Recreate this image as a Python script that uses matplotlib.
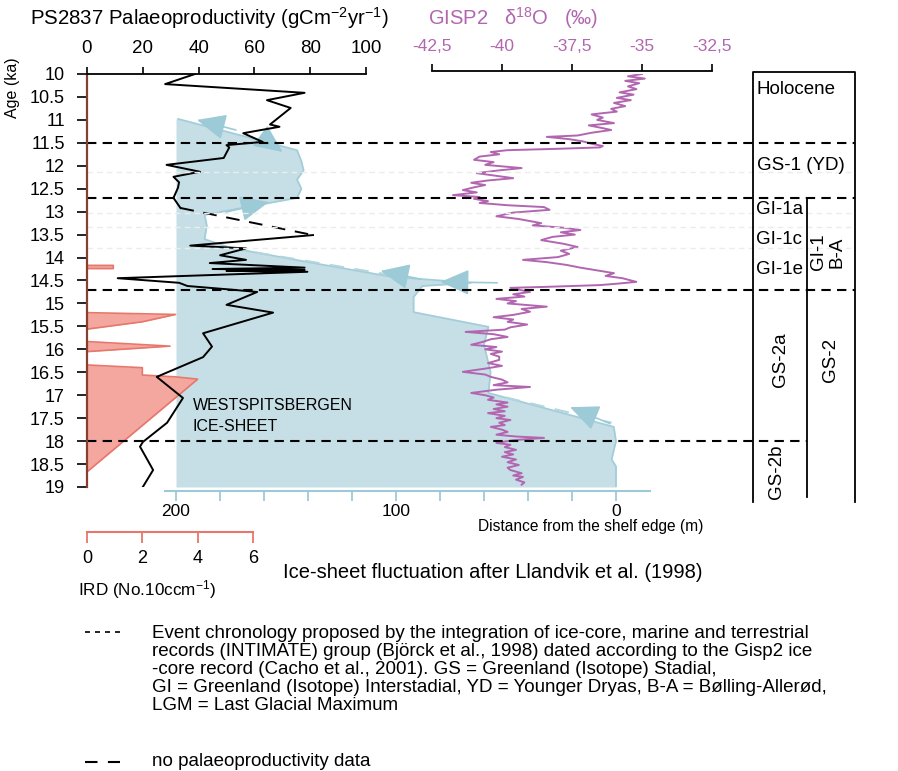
import numpy as np
import matplotlib
matplotlib.use("Agg")
import matplotlib.pyplot as plt
from matplotlib import transforms
from matplotlib.lines import Line2D

# ---- data ----
# PS2837 palaeoproductivity (gC m-2 yr-1); nan marks the gap without data
prod_age = [10.0, 10.22, 10.41, 10.57, 10.74, 11.1, 11.15, 11.29, 11.48, 11.55, 11.6, 11.83,
            11.98, 12.13, 12.24, 12.36, 12.48, 12.7, 12.92, np.nan,
            13.51, 13.74, 13.8, 13.95, 14.05, 14.12, 14.22, 14.25, 14.27, 14.29, 14.31,
            14.45, 14.55, 14.62, 14.7, 14.75, 15.03, 15.2, 15.65, 15.94, 16.17, 16.6,
            17.06, 17.6, 18.02, 18.12, 18.63, 19.0]
prod_val = [38.7, 28, 78, 64.5, 73, 65.6, 69, 56, 63, 50, 51, 49,
            28.5, 40.5, 31, 33, 32.6, 31, 33.5, np.nan,
            81, 37, 57, 47.7, 57, 44, 78, 45, 78, 50, 79,
            11, 33, 36, 52, 61, 50, 66.7, 41.6, 44.8, 41.6, 25,
            34.4, 28.7, 20, 19, 23.7, 20]
gap_age = [12.92, 13.51]
gap_val = [33.5, 81]

# IRD (No. 10 ccm-1)
ird_age = [14.17, 14.17, 14.24, 14.24, 15.2, 15.24, 15.4, 15.56, 15.83, 15.88, 15.93, 16.05,
           16.34, 16.4, 16.56, 16.6, 16.65, 18.67]
ird_val = [0, 0.95, 0.95, 0, 0, 3.2, 2.0, 0, 0, 1.5, 3.0, 0,
           0, 2.0, 2.0, 3.2, 4.0, 0]

# GISP2 d18O (permil)
gisp_age = [10.00, 10.05, 10.10, 10.15, 10.20, 10.27, 10.33, 10.40, 10.45, 10.52, 10.57, 10.63,
            10.70, 10.76, 10.82, 10.88, 10.95, 11.00, 11.07, 11.12, 11.18, 11.22, 11.28, 11.34,
            11.37, 11.42, 11.47, 11.52, 11.57, 11.60, 11.63, 11.66, 11.70, 11.75, 11.80, 11.87,
            11.92, 11.98, 12.05, 12.10, 12.16, 12.22, 12.27, 12.32, 12.37, 12.42, 12.47, 12.53,
            12.58, 12.64, 12.68, 12.72, 12.77, 12.81, 12.86, 12.90, 12.96, 13.02, 13.10, 13.16,
            13.25, 13.30, 13.35, 13.40, 13.45, 13.50, 13.55, 13.62, 13.70, 13.77, 13.85, 13.92,
            13.99, 14.05, 14.10, 14.16, 14.22, 14.28, 14.34, 14.40, 14.45, 14.53, 14.57, 14.60,
            14.64, 14.66, 14.70, 14.75, 14.80, 14.85, 14.90, 14.95, 15.00, 15.07, 15.12, 15.18,
            15.25, 15.30, 15.35, 15.40, 15.46, 15.52, 15.57, 15.62, 15.67, 15.73, 15.78, 15.84,
            15.90, 15.95, 16.00, 16.05, 16.10, 16.16, 16.23, 16.30, 16.36, 16.42, 16.49, 16.55,
            16.60, 16.66, 16.72, 16.78, 16.82, 16.88, 16.95, 17.00, 17.05, 17.10, 17.16, 17.20,
            17.25, 17.30, 17.35, 17.39, 17.45, 17.50, 17.54, 17.60, 17.65, 17.69, 17.75, 17.80,
            17.86, 17.90, 17.93, 17.98, 18.04, 18.08, 18.13, 18.19, 18.24, 18.29, 18.34, 18.40,
            18.46, 18.52, 18.58, 18.63, 18.70, 18.75, 18.78, 18.84, 18.90, 18.95]
gisp_val = [-35.0, -35.5, -34.9, -35.6, -35.1, -35.5, -35.2, -35.8, -35.3, -35.9, -35.4, -36.0,
            -35.6, -36.1, -35.9, -36.8, -36.4, -36.6, -36.0, -36.9, -36.4, -36.1, -36.8, -37.3,
            -38.4, -37.6, -37.1, -36.8, -36.4, -36.5, -38.0, -39.8, -40.4, -40.1, -40.8, -41.0,
            -40.3, -40.6, -39.3, -40.1, -40.9, -40.2, -39.6, -40.5, -41.1, -40.6, -41.0, -41.4,
            -40.9, -41.75, -40.8, -41.0, -40.5, -40.8, -39.8, -38.5, -38.3, -39.6, -40.2, -39.4,
            -38.6, -38.9, -37.8, -37.2, -37.9, -37.4, -38.2, -38.6, -37.8, -37.3, -37.9, -37.6,
            -38.0, -39.25, -38.4, -37.7, -37.2, -36.6, -36.0, -36.3, -35.7, -35.2, -35.9, -36.5,
            -38.5, -39.7, -39.4, -39.0, -39.6, -39.2, -40.2, -39.5, -39.8, -38.4, -39.3, -39.0,
            -39.6, -40.3, -39.6, -39.8, -39.1, -39.7, -39.9, -41.3, -40.3, -39.8, -40.4, -40.7,
            -41.1, -40.2, -40.6, -40.0, -40.4, -40.1, -40.1, -40.5, -40.0, -40.6, -41.4, -40.6,
            -40.4, -40.0, -39.8, -40.3, -39.0, -40.2, -41.1, -40.6, -40.3, -40.5, -39.8, -40.2,
            -39.8, -40.3, -39.9, -40.5, -39.9, -40.2, -39.7, -40.1, -39.9, -40.4, -40.0, -39.8,
            -40.2, -39.5, -38.5, -39.6, -40.2, -39.7, -39.9, -39.5, -39.9, -39.6, -40.0, -39.5,
            -39.8, -39.4, -39.8, -39.7, -39.3, -39.6, -39.25, -39.5, -39.2, -39.3]

# ice-sheet margin, distance from the shelf edge (m)
ice_age = [10.98, 11.66, 11.9, 12.1, 12.3, 12.5, 12.7, 13.07, 13.3, 13.6, 13.79, 14.1, 14.42,
           14.55, 14.62, 14.86, 15.19, 15.51, 15.9, 16.5, 16.95, 17.69, 18.0, 18.4, 18.55, 19.0]
ice_dist = [199, 145, 143, 142, 145, 143, 145, 187, 186, 187, 175, 140, 102,
            66, 88, 92, 92, 58, 60, 57, 58, 1, 0, 2, 0, 0]
# arrows: (tail distance, tail age, head distance, head age)
ice_arrows = [(172.8, 11.22, 190.5, 11.0), (160.5, 11.39, 151.5, 11.70),
              (177.3, 13.01, 157.8, 12.79), (88.9, 14.47, 107.0, 14.29),
              (54.0, 14.55, 79.8, 14.53), (2.7, 17.62, 20.9, 17.26)]
ice_dashes = [([175, 100], [13.8, 14.4]), ([50, 2], [17.05, 17.6])]

event_ages = [11.5, 12.7, 14.7]
event_ages_short = [18.0]
faint_ages = [12.13, 13.03, 13.33, 13.79]

# ---- figure ----
plt.rcParams['font.family'] = ['Liberation Sans', 'DejaVu Sans']
plt.rcParams['mathtext.fontset'] = 'custom'
plt.rcParams['mathtext.rm'] = 'Liberation Sans'
plt.rcParams['mathtext.it'] = 'Liberation Sans:italic'

W, H = 898, 771
Y_TOP, Y_BOT = 74, 487
fig = plt.figure(figsize=(W / 100, H / 100), dpi=100)


def make_axes(px_a, val_a, px_b, val_b, left_px, right_px):
    scale = (val_b - val_a) / (px_b - px_a)
    ax = fig.add_axes([left_px / W, (H - Y_BOT) / H, (right_px - left_px) / W, (Y_BOT - Y_TOP) / H])
    ax.set_xlim(val_a + (left_px - px_a) * scale, val_a + (right_px - px_a) * scale)
    ax.set_ylim(19.0, 10.0)
    ax.patch.set_visible(False)
    for s in ax.spines.values():
        s.set_visible(False)
    ax.tick_params(left=False, bottom=False, labelleft=False, labelbottom=False)
    return ax


def ftext(x, y, s, **kw):
    return fig.text(x / W, 1 - y / H, s, **kw)


ICE = '#c6dfe6'
ICE_EDGE = '#a3cdd9'
RED = '#e8776b'
PURPLE = '#b266b0'

ax_ice = make_axes(176, 200, 616, 0, 165, 650)
ax_ird = make_axes(87, 0, 253, 6, 87, 253)
ax_g = make_axes(432, -42.5, 712, -32.5, 432, 712)
ax_p = make_axes(87, 0, 366, 100, 87, 366)

# ice sheet
ax_ice.fill_betweenx(ice_age, 200, ice_dist, color=ICE, lw=0)
ax_ice.plot(ice_dist, ice_age, color=ICE_EDGE, lw=1.3)
for xs, ys in ice_dashes:
    ax_ice.plot(xs, ys, color='#b3d5de', lw=1.5, dashes=(7, 5))
for x0, y0, x1, y1 in ice_arrows:
    ax_ice.annotate('', xy=(x1, y1), xytext=(x0, y0),
                    arrowprops=dict(arrowstyle='-|>,head_length=0.9,head_width=0.4',
                                    color='#9ccad7', lw=1.2, mutation_scale=20,
                                    shrinkA=0, shrinkB=0))
ax_ice.spines['bottom'].set_visible(True)
ax_ice.spines['bottom'].set_position(('outward', 3))
ax_ice.spines['bottom'].set_color('#9ccad7')
ax_ice.spines['bottom'].set_linewidth(1.5)
ax_ice.set_xticks(np.arange(0, 201, 20))
ax_ice.set_xticklabels([str(v) if v in (0, 100, 200) else '' for v in range(0, 201, 20)])
ax_ice.tick_params(bottom=True, labelbottom=True, direction='out', length=7, width=1.3,
                   color='#9ccad7', labelcolor='black', labelsize=12.5, pad=2.5)

# IRD
ax_ird.fill_betweenx(ird_age, 0, ird_val, color='#f3a79e', lw=0)
ax_ird.plot(ird_val, ird_age, color=RED, lw=1.2)
ax_ird.spines['bottom'].set_visible(True)
ax_ird.spines['bottom'].set_position(('outward', 32.4))
ax_ird.spines['bottom'].set_color(RED)
ax_ird.spines['bottom'].set_linewidth(1.5)
ax_ird.set_xticks([0, 2, 4, 6])
ax_ird.tick_params(bottom=True, labelbottom=True, direction='out', length=8, width=1.3,
                   color=RED, labelcolor='black', labelsize=13, pad=5)

# GISP2
ax_g.plot(gisp_val, gisp_age, color=PURPLE, lw=1.4)
ax_g.spines['top'].set_visible(True)
ax_g.spines['top'].set_position(('outward', 2.5))
ax_g.spines['top'].set_linewidth(1.3)
ax_g.set_xticks([-42.5, -40, -37.5, -35, -32.5])
ax_g.set_xticklabels(['-42,5', '-40', '-37,5', '-35', '-32,5'])
ax_g.tick_params(top=True, labeltop=True, direction='out', length=5, width=1.2,
                 labelcolor=PURPLE, labelsize=12.5, pad=7)

# palaeoproductivity
ax_p.plot(prod_val, prod_age, color='black', lw=1.4)
ax_p.plot(gap_val, gap_age, color='black', lw=1.4, dashes=(7, 5))
ax_p.spines['top'].set_visible(True)
ax_p.spines['top'].set_linewidth(1.3)
ax_p.spines['left'].set_visible(True)
ax_p.spines['left'].set_color('#86402f')
ax_p.spines['left'].set_linewidth(1.6)
ax_p.set_xticks([0, 20, 40, 60, 80, 100])
ages = np.arange(10, 19.01, 0.5)
ax_p.set_yticks(ages)
ax_p.set_yticklabels(['%g' % a for a in ages])
ax_p.tick_params(axis='x', top=True, labeltop=True, direction='out', length=5, width=1.2,
                 labelsize=13.5, pad=7)
ax_p.tick_params(axis='y', left=True, labelleft=True, direction='out', length=7, width=1.2,
                 labelsize=13, pad=9)

# event lines and stratigraphy column (x in figure pixels, y in age)
trans = transforms.blended_transform_factory(fig.transFigure, ax_p.transData)
for a in faint_ages:
    ax_p.plot([87 / W, 855 / W], [a, a], transform=trans, clip_on=False,
              color='#ececec', lw=1.0, dashes=(4, 3))
for a in event_ages:
    ax_p.plot([87 / W, 855 / W], [a, a], transform=trans, clip_on=False,
              color='black', lw=1.5, dashes=(4.5, 3))
for a in event_ages_short:
    ax_p.plot([87 / W, 807 / W], [a, a], transform=trans, clip_on=False,
              color='black', lw=1.5, dashes=(4.5, 3))
box = dict(transform=trans, clip_on=False, color='black', lw=1.3)
ax_p.plot([753 / W, 753 / W, 855 / W, 855 / W], [19.32, 9.96, 9.96, 19.32], **box)
ax_p.plot([807 / W, 807 / W], [12.7, 19.22], **box)

SF = 13.5
ftext(757, 90, 'Holocene', fontsize=SF, va='center')
ftext(757, 165, 'GS-1 (YD)', fontsize=SF, va='center')
ftext(756, 210, 'GI-1a', fontsize=SF, va='center')
ftext(756, 240, 'GI-1c', fontsize=SF, va='center')
ftext(756, 269, 'GI-1e', fontsize=SF, va='center')
ftext(818, 252, 'GI-1', fontsize=SF, va='center', ha='center', rotation=90)
ftext(837, 252, 'B-A', fontsize=SF, va='center', ha='center', rotation=90)
ftext(781, 360, 'GS-2a', fontsize=SF, va='center', ha='center', rotation=90)
ftext(831, 360, 'GS-2', fontsize=SF, va='center', ha='center', rotation=90)
ftext(776, 472, 'GS-2b', fontsize=SF, va='center', ha='center', rotation=90)

# titles and labels
ftext(30, 18, 'PS2837 Palaeoproductivity (gCm$^{-2}$yr$^{-1}$)', fontsize=14.7, va='center')
ftext(428, 18, 'GISP2   \u03b4$^{18}$O   (\u2030)', fontsize=14.5, va='center', color=PURPLE,
      family=['Liberation Sans', 'DejaVu Sans'])
ftext(12, 88, 'Age (ka)', fontsize=11.5, va='center', ha='center', rotation=90)
ftext(193, 416, 'WESTSPITSBERGEN\nICE-SHEET', fontsize=11.5, va='center', linespacing=1.45)
ftext(478, 526, 'Distance from the shelf edge (m)', fontsize=11.2, va='center')
ftext(78, 590, 'IRD (No.10ccm$^{-1}$)', fontsize=12.3, va='center')
ftext(283, 572, 'Ice-sheet fluctuation after Llandvik et al. (1998)', fontsize=14.5, va='center')

# explanation block
legend_lines = [
    'Event chronology proposed by the integration of ice-core, marine and terrestrial',
    'records (INTIMATE) group (Bj\u00f6rck et al., 1998) dated according to the Gisp2 ice',
    '-core record (Cacho et al., 2001). GS = Greenland (Isotope) Stadial,',
    'GI = Greenland (Isotope) Interstadial, YD = Younger Dryas, B-A = B\u00f8lling-Aller\u00f8d,',
    'LGM = Last Glacial Maximum',
]
legend_y = [633, 651, 669, 687, 706]
LF = 13.5
for s, y in zip(legend_lines, legend_y):
    ftext(152, y, s, fontsize=LF, va='center')
ftext(152, 762, 'no palaeoproductivity data', fontsize=LF, va='center')
fig.add_artist(Line2D([85 / W, 120 / W], [1 - 632 / H] * 2, color='black', lw=1.2, dashes=(3, 3)))
fig.add_artist(Line2D([85 / W, 120 / W], [1 - 762 / H] * 2, color='black', lw=1.5, dashes=(6, 5)))

fig.savefig('out.png', dpi=100)
